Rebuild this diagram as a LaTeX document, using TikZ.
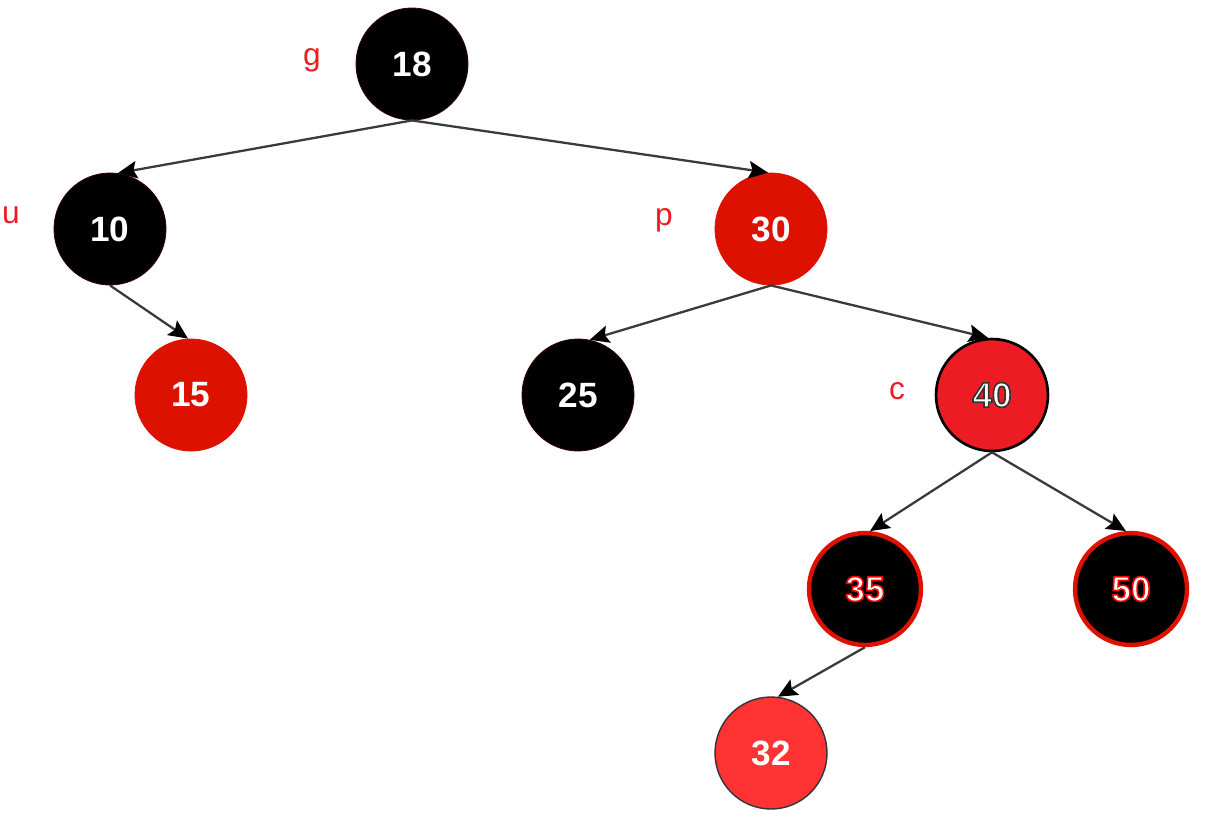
\documentclass[tikz,border=0pt]{standalone}
\usepackage{fontspec}
\setmainfont{Liberation Sans}
\usepackage{xcolor}
\usepackage{tikz}
\usetikzlibrary{shapes,arrows,positioning,calc,arrows.meta}

\definecolor{nodered}{HTML}{DD1100}
\definecolor{cred}{HTML}{ED1C24}
\definecolor{lightred}{HTML}{FF3333}
\definecolor{edgegray}{HTML}{3A3A3A}

% outlined numbers (stroke colour as rgb triple)
\newcommand{\ringtext}[2]{\special{pdf:code q 2 Tr 0.9 w #1 RG}#2\special{pdf:code 0 Tr Q}}

\tikzset{
    rbnode/.style={circle, minimum size=2.24cm, inner sep=0pt, font=\fontsize{20}{24}\selectfont\bfseries, text=white},
    blacknode/.style={rbnode, fill=black, draw=black!80!red, line width=0.5pt},
    rednode/.style={rbnode, fill=nodered, draw=nodered, line width=0.5pt},
    marked/.style={rbnode, fill=black, draw=nodered, line width=2.5pt},
    tag/.style={text=cred, font=\fontsize{18}{22}\selectfont},
    edge/.style={draw=edgegray, line width=1.3pt, -{Stealth[length=11pt,width=10pt,inset=2pt,black]}}
}

\begin{document}
\begin{tikzpicture}[x=0.02cm, y=-0.02cm]
    % Frame
    \useasboundingbox (0,0) rectangle (1220,818);

    % Nodes
    \node[blacknode] (n18) at (412,64) {18};
    \node[blacknode] (n10) at (110,229) {10};
    \node[rednode] (n30) at (771,229) {30};
    \node[rednode] (n15) at (191,395) {15};
    \node[blacknode] (n25) at (578,395) {25};
    \node[rbnode, fill=cred, draw=black, line width=1.5pt] (n40) at (992,395) {\ringtext{0.2 0.2 0.2}{40}};
    \node[marked] (n35) at (865,589) {\ringtext{1 0 0}{35}};
    \node[marked] (n50) at (1131,589) {\ringtext{1 0 0}{50}};
    \node[rbnode, fill=lightred, draw=black!80, line width=0.8pt] (n32) at (771,753) {32};

    % Labels
    \node[tag] (g) at (312,60) {g};
    \node[tag] (u) at (11,215) {u};
    \node[tag] (p) at (664,220) {p};
    \node[tag] (c) at (897,391) {c};

    % Edges
    \draw[edge] (n18.south) -- (n10.82);
    \draw[edge] (n18.south) -- (n30.93);
    \draw[edge] (n10.south) -- (n15.93);
    \draw[edge] (n30.south) -- (n25.78);
    \draw[edge] (n30.south) -- (n40.94);
    \draw[edge] (n40.south) -- (n35.85);
    \draw[edge] (n40.south) -- (n50.95);
    \draw[edge] (n35.south) -- (n32.83);
\end{tikzpicture}
\end{document}
